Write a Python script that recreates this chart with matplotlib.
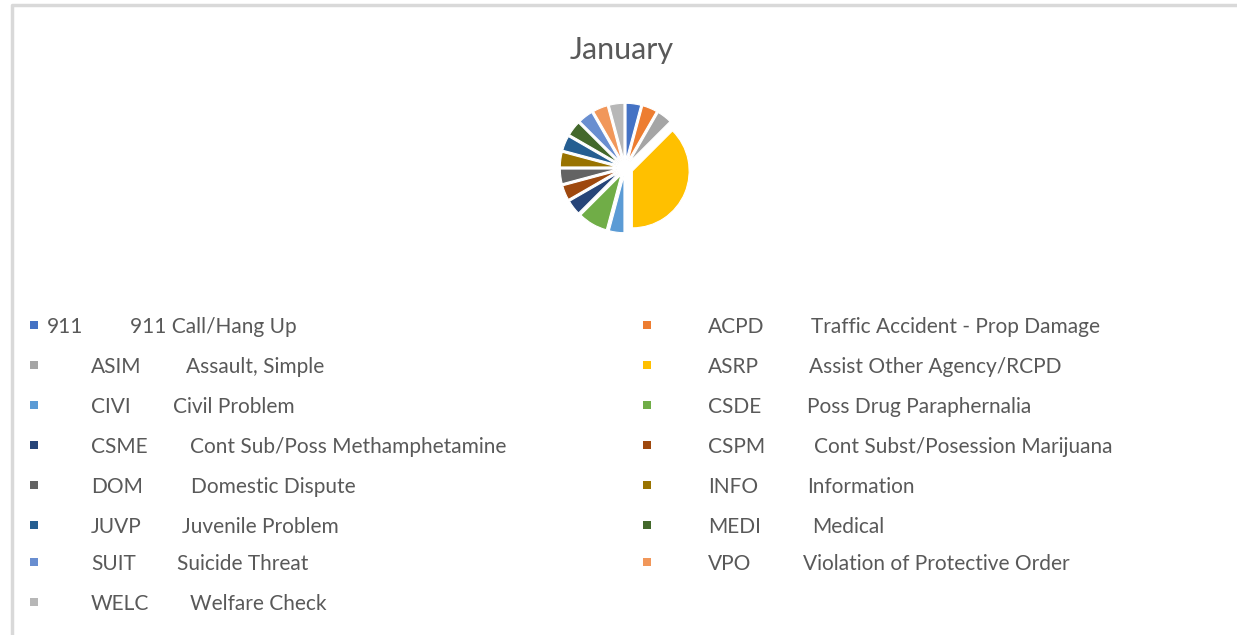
import matplotlib.pyplot as plt

codes = ["911", "ACPD", "ASIM", "ASRP", "CIVI", "CSDE", "CSME", "CSPM",
         "DOM", "INFO", "JUVP", "MEDI", "SUIT", "VPO", "WELC"]
descs = ["911 Call/Hang Up", "Traffic Accident - Prop Damage", "Assault, Simple",
         "Assist Other Agency/RCPD", "Civil Problem", "Poss Drug Paraphernalia",
         "Cont Sub/Poss Methamphetamine", "Cont Subst/Posession Marijuana",
         "Domestic Dispute", "Information", "Juvenile Problem", "Medical",
         "Suicide Threat", "Violation of Protective Order", "Welfare Check"]
counts = [1, 1, 1, 9, 1, 2, 1, 1, 1, 1, 1, 1, 1, 1, 1]
colors = ["#4472C4", "#ED7D31", "#A5A5A5", "#FFC000", "#5B9BD5", "#70AD47",
          "#264478", "#9E480E", "#636363", "#997300", "#255E91", "#43682B",
          "#698ED0", "#F1975A", "#B7B7B7"]

W, H = 1237, 635
fig = plt.figure(figsize=(W / 100, H / 100), dpi=100)
txt = "#595959"
font = "Lato"

# border of the chart area
frame = fig.add_axes([0, 0, 1, 1])
frame.set_xlim(0, W)
frame.set_ylim(H, 0)
frame.axis("off")
frame.plot([12, 12, W], [H, 5, 5], color="#d9d9d9", lw=2.5)

# pie
cx, cy, half = 625, 168, 71
ax = fig.add_axes([(cx - half) / W, 1 - (cy + half) / H, 2 * half / W, 2 * half / H])
ax.pie(counts, colors=colors, startangle=90, counterclock=False,
       explode=[0.14] * len(counts), radius=1.0,
       wedgeprops=dict(edgecolor="white", linewidth=0.8))
ax.set_xlim(-1.25, 1.25)
ax.set_ylim(-1.25, 1.25)
ax.set_aspect("equal")
ax.axis("off")

fig.text(622 / W, 1 - 50 / H, "January", ha="center", va="center",
         fontsize=22, color=txt, family=font)

# legend, two columns
row_y = [327, 367, 407, 447, 487, 527, 564, 604]
left_desc_x = [130, 186, 173, 190, 191, 182, 177, 190]
right_desc_x = [811, 809, 807, 814, 807, 812, 803]
for i, (c, d, col) in enumerate(zip(codes, descs, colors)):
    r = i // 2
    y = row_y[r]
    if i % 2 == 0:
        mx, code_x, desc_x = 34, 91, left_desc_x[r]
        if c == "911":
            code_x = 47
    else:
        mx, code_x, desc_x = 647, 708, right_desc_x[r]
    frame.scatter([mx], [y - 2], marker="s", s=40, color=col, linewidths=0)
    frame.text(code_x, y, c, ha="left", va="center", fontsize=15, color=txt, family=font)
    frame.text(desc_x, y, d, ha="left", va="center", fontsize=15, color=txt, family=font)

fig.savefig("out.png", dpi=100, facecolor="white")
